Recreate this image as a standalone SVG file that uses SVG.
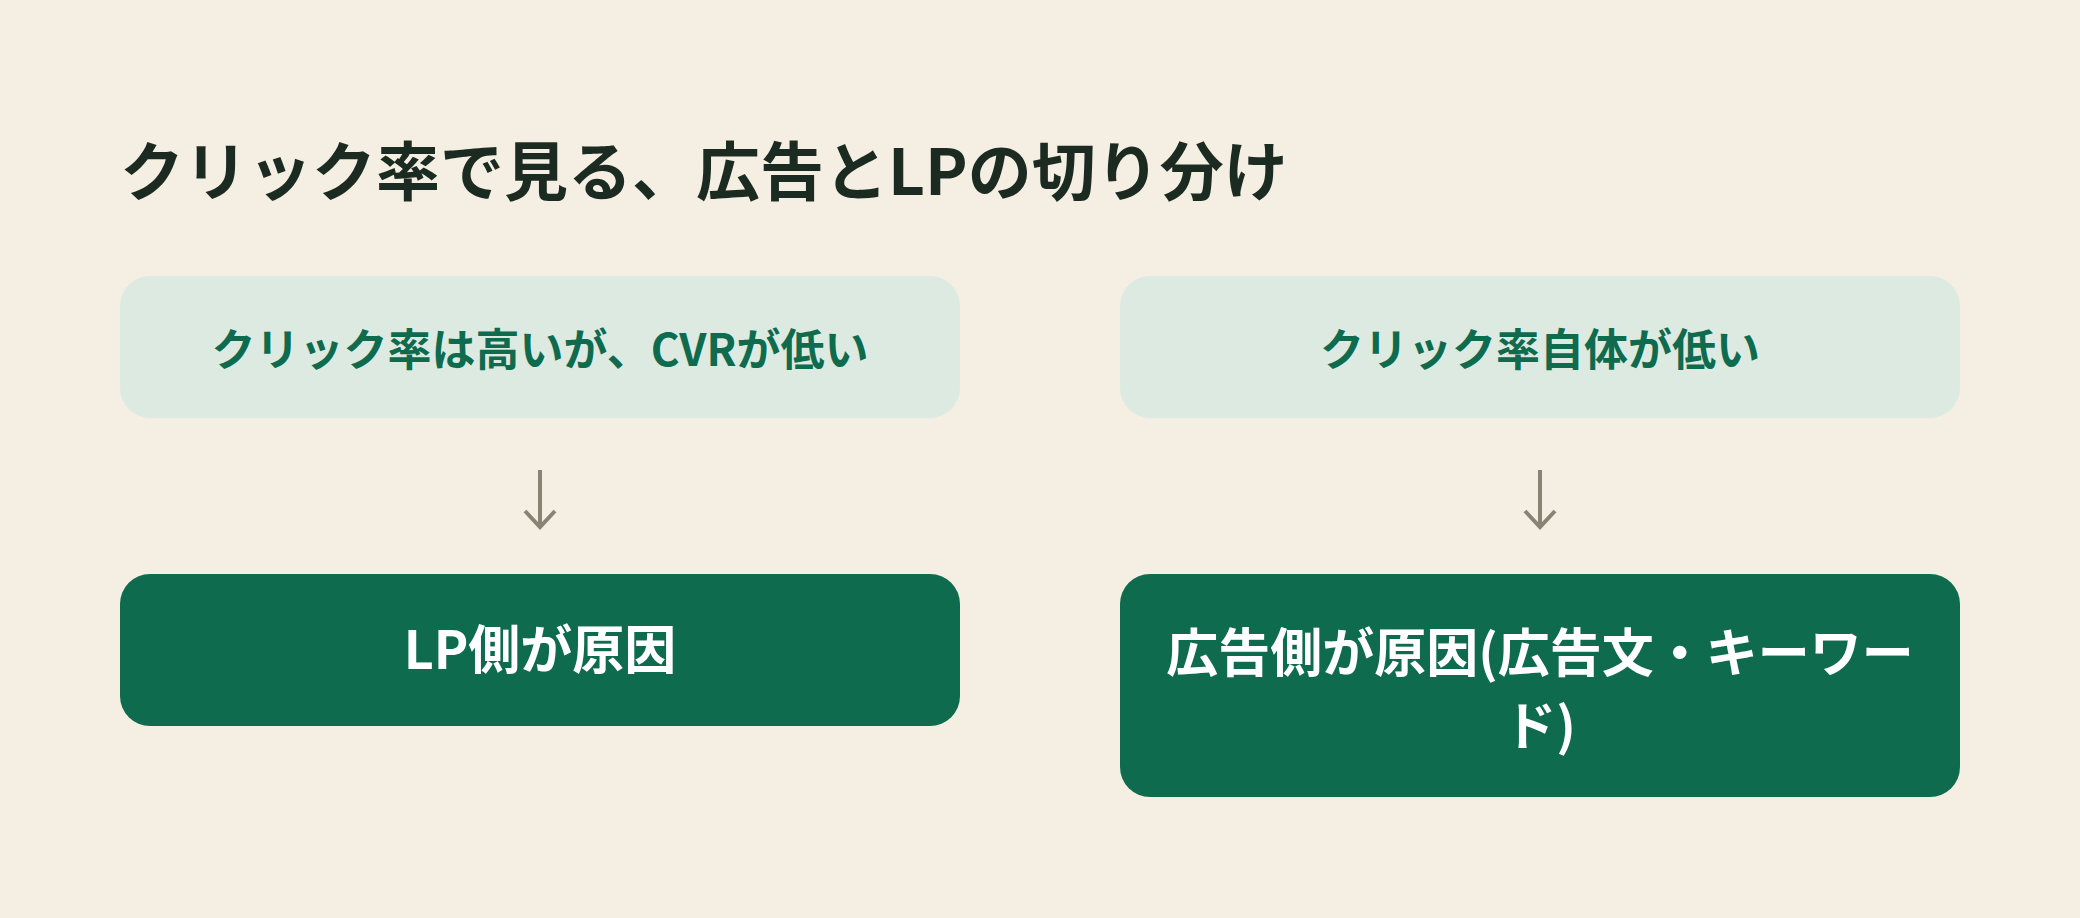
<svg xmlns="http://www.w3.org/2000/svg" width="2080" height="918" viewBox="0 0 2080 918">
  <defs>
    <style>
      .jp { font-family: "Noto Sans CJK JP", "Noto Sans", sans-serif; font-weight: 700; }
      .title { font-size: 64px; fill: #1B2B22; }
      .soft rect { fill: #DDEAE2; }
      .soft text { font-size: 44px; fill: #0F6B4E; text-anchor: middle; }
      .solid rect { fill: #0F6B4E; }
      .solid text { font-size: 52px; fill: #FFFFFF; text-anchor: middle; }
      .conn path { fill: none; stroke: #8A8374; stroke-width: 4; stroke-linecap: butt; stroke-linejoin: miter; }
    </style>
  </defs>
  <rect width="2080" height="918" fill="#F5EFE3"/>
  <text id="title" class="jp title" x="120" y="195">クリック率で見る、広告とLPの切り分け</text>

  <g id="node-ctr-high" class="soft">
    <rect x="120" y="276" width="840" height="142" rx="30"/>
    <text class="jp" x="540" y="366">クリック率は高いが、CVRが低い</text>
  </g>
  <g id="node-ctr-low" class="soft">
    <rect x="1120" y="276" width="840" height="142" rx="30"/>
    <text class="jp" x="1540" y="366">クリック率自体が低い</text>
  </g>
  <g id="node-lp" class="solid">
    <rect x="120" y="574" width="840" height="152" rx="30"/>
    <text class="jp" x="540" y="669">LP側が原因</text>
  </g>
  <g id="node-ad" class="solid">
    <rect x="1120" y="574" width="840" height="223" rx="30"/>
    <text class="jp" x="1540" y="672">広告側が原因(広告文・キーワー</text>
    <text class="jp" x="1540" y="745">ド)</text>
  </g>

  <g id="connectors" class="conn">
    <path d="M540 470 V527 M525 511 L540 527 L555 511"/>
    <path d="M1540 470 V527 M1525 511 L1540 527 L1555 511"/>
  </g>
</svg>
